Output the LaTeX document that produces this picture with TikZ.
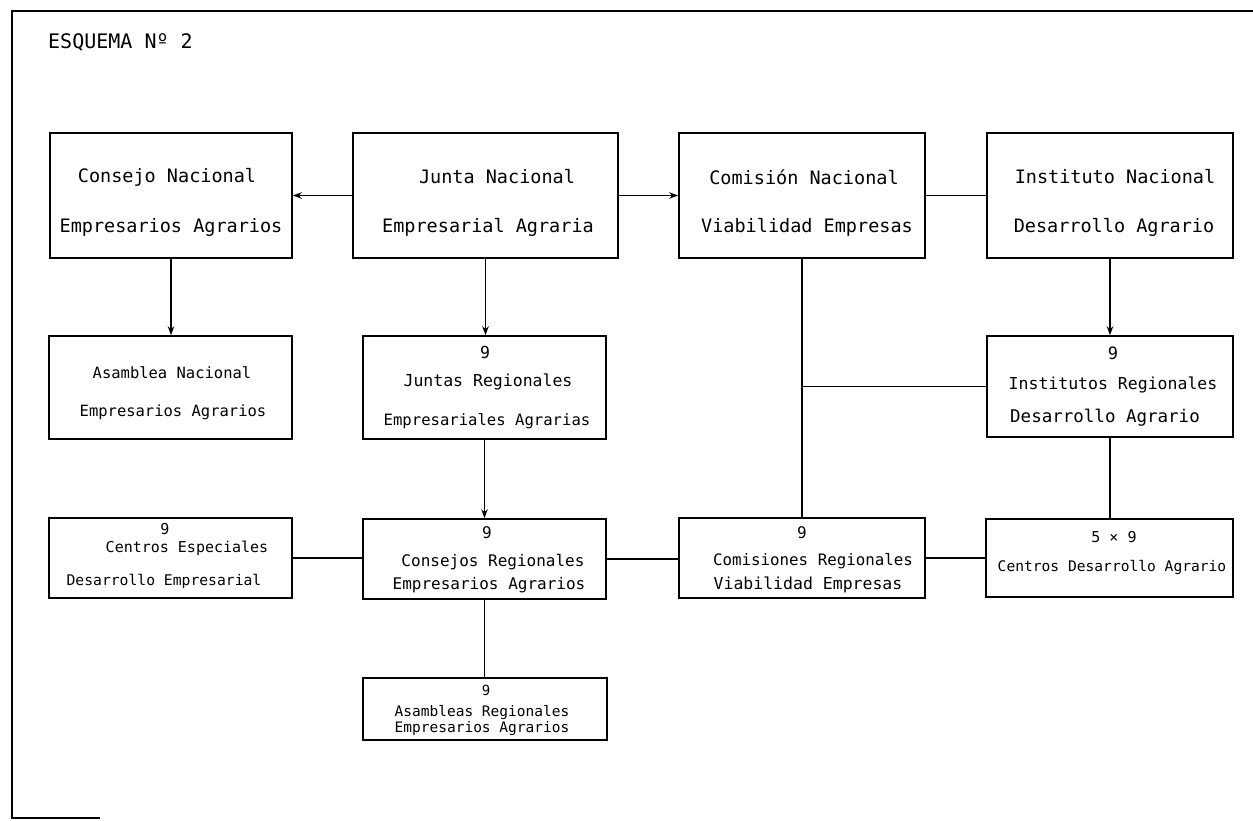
\documentclass[tikz,border=0pt]{standalone}
\usepackage{fontspec}
\setmonofont{DejaVu Sans Mono}
\usetikzlibrary{arrows.meta}
\tikzset{
  box/.style={draw, line width=1.6pt, rectangle, inner sep=0pt},
  lbl/.style={inner sep=0pt, font=\ttfamily},
  conn/.style={line width=1.5pt},
  arr/.style={line width=1.5pt, -{Stealth[length=9pt,width=6.5pt]}},
  frm/.style={line width=2.6pt}
}
\newcommand{\fs}[1]{\fontsize{#1}{#1}\selectfont}
\begin{document}
\begin{tikzpicture}[x=1pt,y=-1pt]
\useasboundingbox (0,0) rectangle (1253,820);
% frame
\coordinate (ftr) at (1253,11);
\coordinate (ftl) at (12,11);
\coordinate (fbl) at (12,818);
\coordinate (fbr) at (100,818);
\draw[frm] (ftr) -- (ftl) -- (fbl) -- (fbr);
\node[lbl, anchor=west, font=\ttfamily\fs{20}] (title) at (48,42) {ESQUEMA Nº 2};

% boxes  (centre, width, height)
\node[box, minimum width=242pt, minimum height=125pt] (cn) at (171,195.5) {};
\node[box, minimum width=265pt, minimum height=125pt] (jn) at (485.5,195.5) {};
\node[box, minimum width=246pt, minimum height=125pt] (co) at (802,195.5) {};
\node[box, minimum width=246pt, minimum height=125pt] (in) at (1110,195.5) {};
\node[box, minimum width=243pt, minimum height=103pt] (an) at (170.5,387.5) {};
\node[box, minimum width=243pt, minimum height=103pt] (jr) at (484.5,387.5) {};
\node[box, minimum width=246pt, minimum height=101pt] (ir) at (1110,386.5) {};
\node[box, minimum width=243pt, minimum height=80pt] (ce) at (170.5,558) {};
\node[box, minimum width=243pt, minimum height=80pt] (cr) at (484.5,559) {};
\node[box, minimum width=246pt, minimum height=80pt] (cm) at (802,558) {};
\node[box, minimum width=247pt, minimum height=78pt] (cd) at (1109.5,558) {};
\node[box, minimum width=244pt, minimum height=62pt] (ar) at (485,709) {};

% texts row 1
\node[lbl, font=\ttfamily\fs{18.5}] (cn1) at (167,177) {Consejo Nacional};
\node[lbl, font=\ttfamily\fs{18.5}] (cn2) at (171,227) {Empresarios Agrarios};
\node[lbl, font=\ttfamily\fs{18.5}] (jn1) at (497,177) {Junta Nacional};
\node[lbl, font=\ttfamily\fs{18.5}] (jn2) at (488,227) {Empresarial Agraria};
\node[lbl, font=\ttfamily\fs{18.5}] (co1) at (804,177) {Comisión Nacional};
\node[lbl, font=\ttfamily\fs{18.5}] (co2) at (807,227) {Viabilidad Empresas};
\node[lbl, font=\ttfamily\fs{18.5}] (in1) at (1115,177) {Instituto Nacional};
\node[lbl, font=\ttfamily\fs{18.5}] (in2) at (1114,227) {Desarrollo Agrario};
% row 2
\node[lbl, font=\ttfamily\fs{15.5}] (an1) at (172,373) {Asamblea Nacional};
\node[lbl, font=\ttfamily\fs{15.5}] (an2) at (173,412) {Empresarios Agrarios};
\node[lbl, font=\ttfamily\fs{16.5}] (jr0) at (485,352) {9};
\node[lbl, font=\ttfamily\fs{16.5}] (jr1) at (488,382) {Juntas Regionales};
\node[lbl, font=\ttfamily\fs{15.6}] (jr2) at (487,421) {Empresariales Agrarias};
\node[lbl, font=\ttfamily\fs{17}] (ir0) at (1113,353) {9};
\node[lbl, font=\ttfamily\fs{16.5}] (ir1) at (1113,385) {Institutos Regionales};
\node[lbl, font=\ttfamily\fs{17.5}] (ir2) at (1105,418) {Desarrollo Agrario};
% row 3
\node[lbl, font=\ttfamily\fs{15}] (ce0) at (165,529) {9};
\node[lbl, font=\ttfamily\fs{15}] (ce1) at (187,548) {Centros Especiales};
\node[lbl, font=\ttfamily\fs{14.7}] (ce2) at (164,581) {Desarrollo Empresarial};
\node[lbl, font=\ttfamily\fs{16}] (cr0) at (487,533) {9};
\node[lbl, font=\ttfamily\fs{16}] (cr1) at (493,562) {Consejos Regionales};
\node[lbl, font=\ttfamily\fs{16}] (cr2) at (489,585) {Empresarios Agrarios};
\node[lbl, font=\ttfamily\fs{16}] (cm0) at (802,533) {9};
\node[lbl, font=\ttfamily\fs{15.8}] (cm1) at (813,561) {Comisiones Regionales};
\node[lbl, font=\ttfamily\fs{16.5}] (cm2) at (808,585) {Viabilidad Empresas};
\node[lbl, font=\ttfamily\fs{15}] (cd0) at (1114,537) {5 × 9};
\node[lbl, font=\ttfamily\fs{14.6}] (cd1) at (1112,567) {Centros Desarrollo Agrario};
% row 4
\node[lbl, font=\ttfamily\fs{14}] (ar0) at (486,690) {9};
\node[lbl, font=\ttfamily\fs{14.5}] (ar1) at (482,712) {Asambleas Regionales};
\node[lbl, font=\ttfamily\fs{14.5}] (ar2) at (482,729) {Empresarios Agrarios};

% connectors
\draw[arr] (jn.west) -- (cn.east);
\draw[arr] (jn.east) -- (co.west);
\draw[conn] (co.east) -- (in.west);
\draw[arr] (cn.south) -- (cn.south |- an.north);
\draw[arr] (jn.south) -- (jn.south |- jr.north);
\draw[arr] (in.south) -- (in.south |- ir.north);
\draw[conn] (co.south) -- (co.south |- cm.north);
\coordinate (jx) at (co.south |- ir.west);
\draw[conn] (jx) -- (ir.west);
\draw[arr] (jr.south) -- (jr.south |- cr.north);
\draw[conn] (ir.south) -- (ir.south |- cd.north);
\draw[conn] (ce.east) -- (ce.east -| cr.west);
\draw[conn] (cr.east) -- (cr.east -| cm.west);
\draw[conn] (cm.east) -- (cm.east -| cd.west);
\draw[conn] (cr.south) -- (cr.south |- ar.north);
\end{tikzpicture}
\end{document}
